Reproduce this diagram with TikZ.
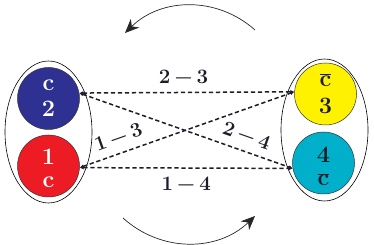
\documentclass[tikz,border=0pt]{standalone}
\usepackage{fontspec}
\usetikzlibrary{arrows.meta,shapes.geometric}
\definecolor{cblue}{RGB}{46,49,146}
\definecolor{cred}{RGB}{237,28,36}
\definecolor{cyellow}{RGB}{255,242,0}
\definecolor{ccyan}{RGB}{0,176,202}
\definecolor{ink}{RGB}{30,28,40}
\newcommand{\barc}{$\overline{\hbox{c}}$}
\newcommand{\pr}[2]{#1\kern.2em−\kern.2em#2}
\begin{document}
\begin{tikzpicture}[x=1pt,y=1pt,
  ball/.style={circle, draw=black!80, line width=0.5pt, minimum size=62pt, inner sep=0pt},
  ctxt/.style={anchor=base, inner sep=0pt, font=\fontsize{23.5}{26}\selectfont\bfseries},
  group/.style={ellipse, draw=black, line width=0.6pt, minimum width=87pt, minimum height=142pt, inner sep=0pt},
  link/.style={ink, line width=1.5pt, dash pattern=on 4.3pt off 2.7pt,
    {Latex[length=4pt,width=4pt]}-{Latex[length=4pt,width=4pt]}},
  lbl/.style={ink, inner sep=8.4pt, font=\fontsize{20.5}{23}\selectfont\bfseries},
  turn/.style={black!85, line width=0.7pt, -{Stealth[length=14pt,width=12pt]}}]
\useasboundingbox (0,0) rectangle (374,245);
\node[group] (L) at (48.5,113) {};
\node[group] (R) at (324.5,115) {};
\node[ball, fill=cblue] (b2) at (48.5,146.5) {};
\node[ball, fill=cred] (b1) at (48.5,79) {};
\node[ball, fill=cyellow] (b3) at (325.5,151) {};
\node[ball, fill=ccyan] (b4) at (323.5,82) {};
\node[ctxt, text=white] (b2a) at ([yshift=7.8pt]b2.center) {c};
\node[ctxt, text=white] (b2b) at ([yshift=-18.2pt]b2.center) {2};
\node[ctxt, text=white] (b1a) at ([yshift=1pt]b1.center) {1};
\node[ctxt, text=white] (b1b) at ([yshift=-21.7pt]b1.center) {c};
\node[ctxt, text=ink] (b3a) at ([yshift=7.3pt]b3.center) {\barc};
\node[ctxt, text=ink] (b3b) at ([yshift=-19.3pt]b3.center) {3};
\node[ctxt, text=ink] (b4a) at ([yshift=0.7pt]b4.center) {4};
\node[ctxt, text=ink] (b4b) at ([yshift=-23pt]b4.center) {\barc};
\draw[link] (b2.10) -- node[lbl, anchor=south, pos=0.485] {\pr{2}{3}} (b3.176);
\draw[link] (b1.-3) -- node[lbl, anchor=north, pos=0.5] {\pr{1}{4}} (b4.190);
\draw[link] (b1.-3) -- node[lbl, sloped, anchor=south, pos=0.205] {\pr{1}{3}} (b3.176);
\draw[link] (b2.10) -- node[lbl, sloped, anchor=south, pos=0.76] {\pr{2}{4}} (b4.190);
\coordinate (t1) at (255,215);
\coordinate (t2) at (125,212);
\coordinate (u1) at (123,27);
\coordinate (u2) at (255,29);
\draw[turn] (t1) to[bend right=43] (t2);
\draw[turn] (u1) to[bend right=43] (u2);
\end{tikzpicture}
\end{document}
